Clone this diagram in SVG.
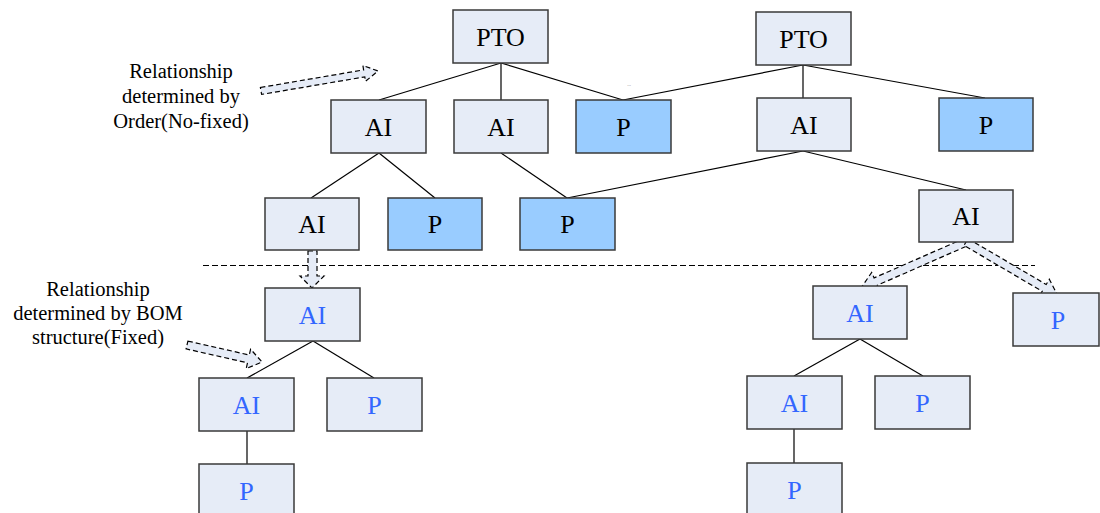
<svg xmlns="http://www.w3.org/2000/svg" width="1100" height="513" viewBox="0 0 1100 513" font-family="Liberation Serif, Times New Roman, serif">
<style>
.n{fill:#E6ECF7;stroke:#3a3a3a;stroke-width:1.5}
.b{fill:#99CCFF;stroke:#3a3a3a;stroke-width:1.5}
.t{font-size:26px;fill:#000;text-anchor:middle}
.tb{font-size:26px;fill:#3366FF;text-anchor:middle}
.a{font-size:20.5px;fill:#000;text-anchor:middle}
.c{stroke:#000;stroke-width:1.2;fill:none}
.ba{fill:#E6ECF7;stroke:#000;stroke-width:1.2;stroke-dasharray:5 3}
</style>
<rect width="1100" height="513" fill="#fff"/>
<g id="connectors">
<line class="c" x1="501" y1="63" x2="379" y2="100"/>
<line class="c" x1="501" y1="63" x2="501" y2="100"/>
<line class="c" x1="501" y1="63" x2="623" y2="100"/>
<line class="c" x1="803" y1="65" x2="623" y2="100"/>
<line class="c" x1="803" y1="65" x2="803" y2="98"/>
<line class="c" x1="803" y1="65" x2="985" y2="98"/>
<line class="c" x1="379" y1="153" x2="311" y2="198"/>
<line class="c" x1="379" y1="153" x2="435" y2="198"/>
<line class="c" x1="501" y1="153" x2="567" y2="198"/>
<line class="c" x1="803" y1="151" x2="567" y2="198"/>
<line class="c" x1="803" y1="151" x2="966" y2="190"/>
<line class="c" x1="313" y1="341" x2="247" y2="378"/>
<line class="c" x1="313" y1="341" x2="374" y2="378"/>
<line class="c" x1="247" y1="431" x2="247" y2="464"/>
<line class="c" x1="860" y1="339" x2="794" y2="376"/>
<line class="c" x1="860" y1="339" x2="923" y2="376"/>
<line class="c" x1="794" y1="429" x2="794" y2="463"/>
<line x1="203" y1="265.5" x2="1035" y2="265.5" stroke="#000" stroke-width="1" stroke-dasharray="6 3"/>
<polygon class="ba" points="260.4,87.5 363.6,69.9 362.9,65.5 378,71 365.5,81.3 364.8,76.9 261.6,94.4"/>
<polygon class="ba" points="308,251 317,251 317,276 324,276 312,288 300,276 308,276"/>
<polygon class="ba" points="187.9,341.1 249.3,355 250.6,349.2 262,362 246.2,368.6 247.5,362.8 186.1,348.9"/>
<polygon class="ba" points="964.4,238.3 874.1,277.9 871.7,272.4 861,288 879.7,290.7 877.3,285.3 967.6,245.7"/>
<polygon class="ba" points="968,238.6 1046.2,284.5 1049.3,279.3 1058,296 1039.1,296.5 1042.2,291.3 964,245.4"/>
</g>
<g id="label1"><text class="a" x="181" y="78">Relationship</text><text class="a" x="181" y="103">determined by</text><text class="a" x="181" y="128">Order(No-fixed)</text></g>
<g id="label2"><text class="a" x="98" y="296">Relationship</text><text class="a" x="98" y="320">determined by BOM</text><text class="a" x="98" y="344">structure(Fixed)</text></g>
<text x="629" y="86" font-size="5" fill="#555" text-anchor="middle">...</text>
<g id="pto1"><rect class="n" x="453" y="10" width="95" height="53"/><text class="t" x="500.5" y="46">PTO</text></g>
<g id="pto2"><rect class="n" x="756" y="12" width="95" height="53"/><text class="t" x="803.5" y="48">PTO</text></g>
<g id="ai1"><rect class="n" x="331" y="100" width="95" height="53"/><text class="t" x="378.5" y="136">AI</text></g>
<g id="ai2"><rect class="n" x="454" y="100" width="94" height="53"/><text class="t" x="501" y="136">AI</text></g>
<g id="p1"><rect class="b" x="576" y="100" width="95" height="53"/><text class="t" x="623.5" y="136">P</text></g>
<g id="ai3"><rect class="n" x="757" y="98" width="94" height="53"/><text class="t" x="804" y="134">AI</text></g>
<g id="p2"><rect class="b" x="939" y="98" width="94" height="53"/><text class="t" x="986" y="134">P</text></g>
<g id="ai4"><rect class="n" x="265" y="198" width="94" height="52"/><text class="t" x="312" y="233">AI</text></g>
<g id="p3"><rect class="b" x="388" y="198" width="94" height="52"/><text class="t" x="435" y="233">P</text></g>
<g id="p4"><rect class="b" x="520" y="198" width="95" height="52"/><text class="t" x="567.5" y="233">P</text></g>
<g id="ai5"><rect class="n" x="919" y="190" width="94" height="52"/><text class="t" x="966" y="225">AI</text></g>
<g id="ai6"><rect class="n" x="265" y="288" width="95" height="53"/><text class="tb" x="312.5" y="324">AI</text></g>
<g id="ai7"><rect class="n" x="199" y="378" width="95" height="53"/><text class="tb" x="246.5" y="414">AI</text></g>
<g id="p5"><rect class="n" x="327" y="378" width="95" height="53"/><text class="tb" x="374.5" y="414">P</text></g>
<g id="p6"><rect class="n" x="199" y="464" width="95" height="53"/><text class="tb" x="246.5" y="500">P</text></g>
<g id="ai8"><rect class="n" x="813" y="286" width="94" height="53"/><text class="tb" x="860" y="322">AI</text></g>
<g id="p7"><rect class="n" x="1013" y="293" width="86" height="53"/><text class="tb" x="1058" y="329">P</text></g>
<g id="ai9"><rect class="n" x="747" y="376" width="95" height="53"/><text class="tb" x="794.5" y="412">AI</text></g>
<g id="p8"><rect class="n" x="875" y="376" width="95" height="53"/><text class="tb" x="922.5" y="412">P</text></g>
<g id="p9"><rect class="n" x="747" y="463" width="95" height="53"/><text class="tb" x="794.5" y="499">P</text></g>
</svg>
